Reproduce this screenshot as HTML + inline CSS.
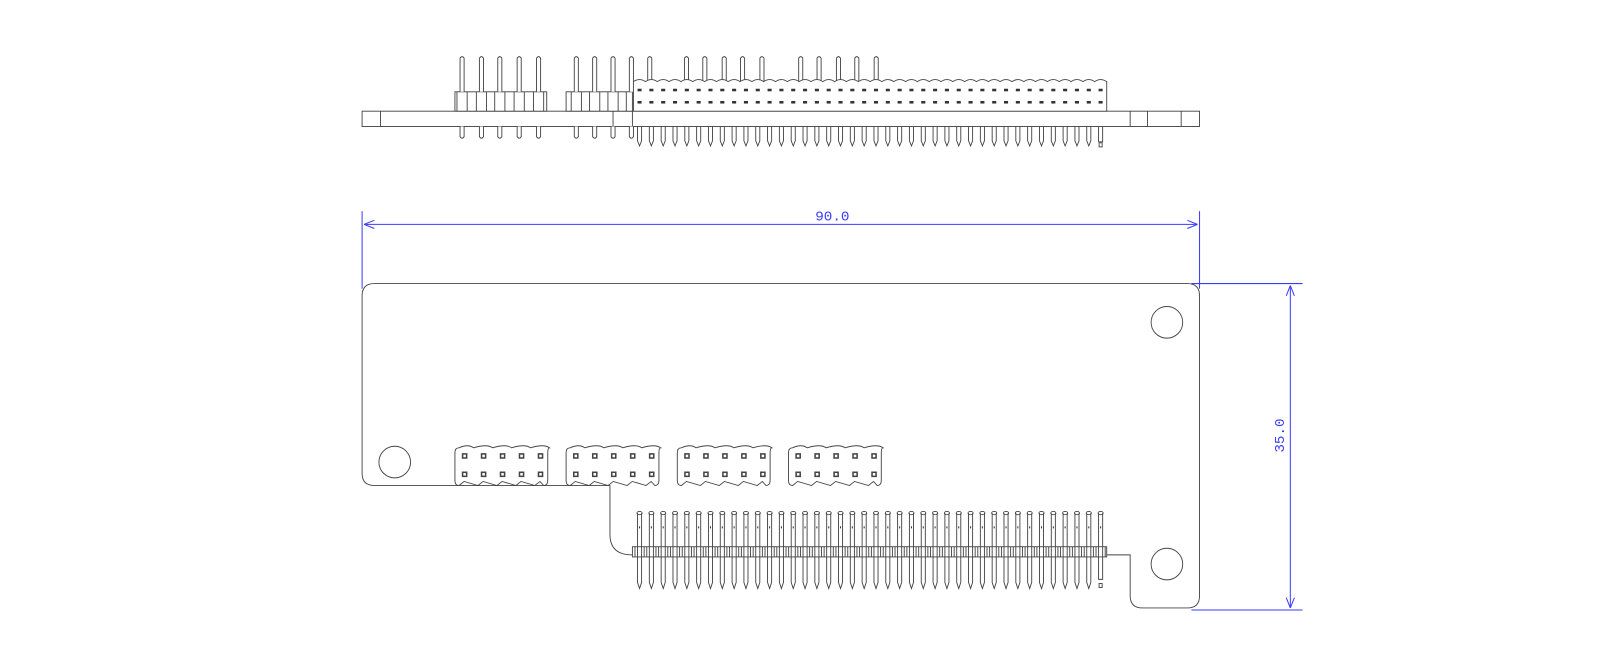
<!DOCTYPE html>
<html><head><meta charset="utf-8"><style>
html,body{margin:0;padding:0;background:#fff;width:1600px;height:667px;overflow:hidden}
svg{display:block}
</style></head><body>
<svg id="s" width="1600" height="667" viewBox="0 0 1568.6 653.9" xmlns="http://www.w3.org/2000/svg">
<g id="g" fill="none" stroke="#444" stroke-width="0.9">
<rect x="355" y="109" width="821" height="15" fill="#fff"/>
<line x1="373" y1="109" x2="373" y2="124"/>
<line x1="601" y1="109" x2="601" y2="124"/>
<line x1="620" y1="109" x2="620" y2="124"/>
<line x1="1108" y1="109" x2="1108" y2="124"/>
<line x1="1125" y1="109" x2="1125" y2="124"/>
<line x1="1158" y1="109" x2="1158" y2="124"/>
<path d="M620 544 Q598 544 598 524 V476 H367 Q355 476 355 464 V290 Q355 278 367 278 H1164 Q1176 278 1176 290 V584 Q1176 596 1164 596 H1120 Q1108 596 1108 584 V544 H1085"/>
<circle cx="1144" cy="316" r="15.5"/>
<circle cx="387" cy="453" r="15.5"/>
<circle cx="1144" cy="553" r="15.5"/>
</g>
<g id="dim" stroke="#3b3bff" stroke-width="1" fill="none">
<line x1="355" y1="207" x2="355" y2="283"/>
<line x1="1176" y1="207" x2="1176" y2="283"/>
<line x1="357" y1="220" x2="1174" y2="220"/>
<path d="M357 220 L367 216 M357 220 L367 224 M1174 220 L1164 216 M1174 220 L1164 224"/>
<line x1="1168" y1="278" x2="1277" y2="278"/>
<line x1="1168" y1="598" x2="1277" y2="598"/>
<line x1="1265" y1="280" x2="1265" y2="596"/>
<path d="M1265 280 L1261 290 M1265 280 L1269 290 M1265 596 L1261 586 M1265 596 L1269 586"/>
</g>
<text x="816" y="216" fill="#3b3bff" font-family="Liberation Mono, monospace" font-size="14" text-anchor="middle">90.0</text>
<text x="0" y="0" fill="#3b3bff" font-family="Liberation Mono, monospace" font-size="14" text-anchor="middle" transform="translate(1259 427) rotate(-90)">35.0</text>
</svg>
<script>
var g=document.getElementById('g'),NS='http://www.w3.org/2000/svg';
function el(t,a){var e=document.createElementNS(NS,t);for(var k in a)e.setAttribute(k,a[k]);g.appendChild(e);return e;}
function tpin(x){el('path',{d:'M'+(x-2)+' 90 V57 Q'+x+' 54 '+(x+2)+' 57 V90',fill:'#fff'});
 el('path',{d:'M'+(x-2)+' 124 V134 Q'+x+' 137 '+(x+2)+' 134 V124',fill:'#fff'});}
el('rect',{x:446,y:90,width:90,height:19,fill:'#fff'});
[453,472,490,509,528].forEach(function(x){tpin(x);el('line',{x1:x-5,y1:90,x2:x-5,y2:109});el('line',{x1:x+5,y1:90,x2:x+5,y2:109});});
el('rect',{x:555,y:90,width:65,height:19,fill:'#fff'});
[565,583,601,619].forEach(function(x){tpin(x);el('line',{x1:x-5,y1:90,x2:x-5,y2:109});el('line',{x1:x+5,y1:90,x2:x+5,y2:109});});
var cols=[];for(var i=0;i<40;i++)cols.push(627+i*11.59);
[637,673,691,710,728,747,785,803,822,840,859].forEach(function(x){el('path',{d:'M'+(x-2)+' 80 V57 Q'+x+' 54 '+(x+2)+' 57 V80',fill:'#fff'});});
el('path',{d:'M621 80 '+cols.map(function(x){return 'Q'+(x)+' 76 '+(x+5.8)+' 80';}).join(' ')+' H1085 V109 H621 Z',fill:'#fff'});
cols.forEach(function(x,i){
 el('rect',{x:x-2,y:87,width:4,height:2.5,fill:'#333',stroke:'none'});
 el('rect',{x:x-2,y:99,width:4,height:2.5,fill:'#333',stroke:'none'});
 if(i<39)el('path',{d:'M'+(x-2)+' 124 V138 L'+x+' 143 L'+(x+2)+' 138 V124'});
 else{el('path',{d:'M'+(x-2)+' 124 V139 H'+(x+2)+' V124'});el('rect',{x:x-1.5,y:140,width:3,height:4});}
});
[446,555,664,773].forEach(function(h){
 var d='M'+(h+4)+' 439';
 for(var k=0;k<5;k++){var c=h+9+k*18.6;d+=' Q'+(c+4)+' 435 '+(c+9.3)+' 439';}
 d+=' Q'+(h+91)+' 439 '+(h+91)+' 444 V471 Q'+(h+91)+' 476 '+(h+87)+' 476';
 for(var k=4;k>=0;k--){var c=h+9+k*18.6;d+=' L'+(c)+' 472 L'+(c-5)+' 476';}
 d+=' H'+(h+4)+' Q'+h+' 476 '+h+' 471 V444 Q'+h+' 439 '+(h+4)+' 439 Z';
 el('path',{d:d,fill:'#fff'});
 for(var k=0;k<5;k++){var x=h+9.5+k*18.6;
  el('rect',{x:x-2,y:445,width:4,height:4,fill:'#fff','stroke-width':1.5});
  el('rect',{x:x-2,y:463,width:4,height:4,fill:'#fff','stroke-width':1.5});}
});
el('rect',{x:620,y:536,width:465,height:10,fill:'#fff'});
cols.forEach(function(x,i){
 el('line',{x1:x-4.5,y1:536,x2:x-4.5,y2:546});el('line',{x1:x+4.5,y1:536,x2:x+4.5,y2:546});
 el('ellipse',{cx:x,cy:503,rx:2.5,ry:1.6});
 if(i<39)el('path',{d:'M'+(x-2)+' 503 V571 L'+x+' 577 L'+(x+2)+' 571 V503',fill:'none'});
 else{el('path',{d:'M'+(x-2)+' 503 V568 H'+(x+2)+' V503'});el('rect',{x:x-1.5,y:572,width:3,height:4});}
 el('rect',{x:x-0.5,y:516,width:1,height:2,fill:'#333',stroke:'none'});
});
</script>
</body></html>
